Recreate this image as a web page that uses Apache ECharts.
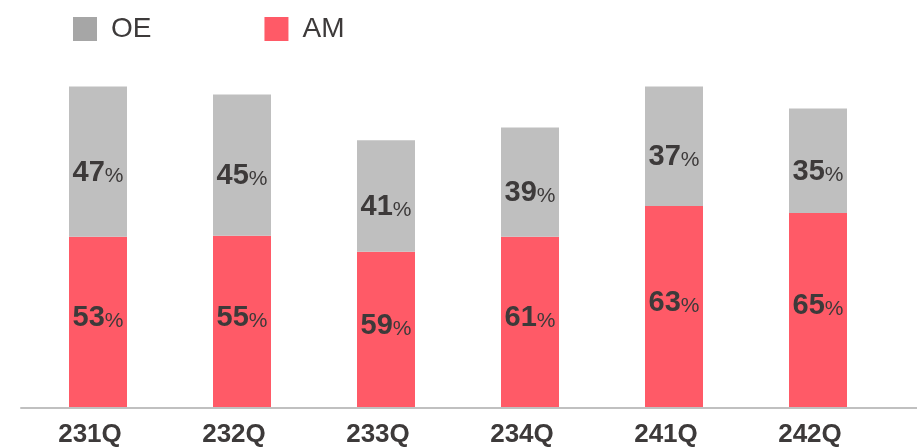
<!DOCTYPE html>
<html>
<head>
<meta charset="utf-8">
<script src="https://cdn.jsdelivr.net/npm/echarts@6/dist/echarts.min.js"></script>
<style>html,body{margin:0;padding:0;background:#fff}#c{width:917px;height:448px}</style>
</head>
<body>
<div id="c"></div>
<script>
const categories = ['231Q','232Q','233Q','234Q','241Q','242Q'];
const amValues = [172,173,157,172,203,196];
const oeValues = [151,142,112,110,120,105];
const amPct = [53,55,59,61,63,65];
const oePct = [47,45,41,39,37,35];

const chart = echarts.init(document.getElementById('c'), null, {renderer:'canvas'});
const FONT = 'Liberation Sans, Arial, sans-serif';
const richLabel = {
  a:{fontFamily:FONT,fontSize:29,fontWeight:'bold',color:'#3d3a3a'},
  b:{fontFamily:FONT,fontSize:21,fontWeight:'normal',color:'#3d3a3a',padding:[6,0,0,0]}
};
chart.setOption({
  animation:false,
  legend:{
    left:73, top:15, padding:0, itemWidth:24, itemHeight:24, itemGap:113, icon:'rect',
    textStyle:{fontFamily:FONT,fontSize:28,color:'#3d3a3a',padding:[0,0,0,9]},
    data:[{name:'OE',itemStyle:{color:'#a6a6a6'}},{name:'AM',itemStyle:{color:'#ff5a67'}}]
  },
  grid:[
    {left:26,right:27,top:10,bottom:38},
    {left:21,right:0,top:10,bottom:40}
  ],
  xAxis:[
    {type:'category',data:categories,gridIndex:0,
     axisLine:{show:false},axisTick:{show:false},
     axisLabel:{margin:14,fontFamily:FONT,fontSize:26,fontWeight:'bold',color:'#3d3a3a',padding:[0,16,0,0]}},
    {type:'value',gridIndex:1,min:0,max:1,z:10,
     axisLine:{show:true,lineStyle:{color:'#c0c0c0',width:2}},
     axisTick:{show:false},axisLabel:{show:false},splitLine:{show:false}}
  ],
  yAxis:[
    {type:'value',gridIndex:0,min:0,max:400,show:false},
    {type:'value',gridIndex:1,min:0,max:1,show:false}
  ],
  series:[
    {name:'AM',type:'bar',stack:'s',data:amValues,barWidth:58,
     itemStyle:{color:'#ff5a67'},
     label:{show:true,position:'inside',offset:[0,-4],
       formatter:p=>'{a|'+amPct[p.dataIndex]+'}{b|%}',rich:richLabel}},
    {name:'OE',type:'bar',stack:'s',data:oeValues,barWidth:58,
     itemStyle:{color:'#bfbfbf'},
     label:{show:true,position:'inside',offset:[0,11],
       formatter:p=>'{a|'+oePct[p.dataIndex]+'}{b|%}',rich:richLabel}}
  ]
});
</script>
</body>
</html>
